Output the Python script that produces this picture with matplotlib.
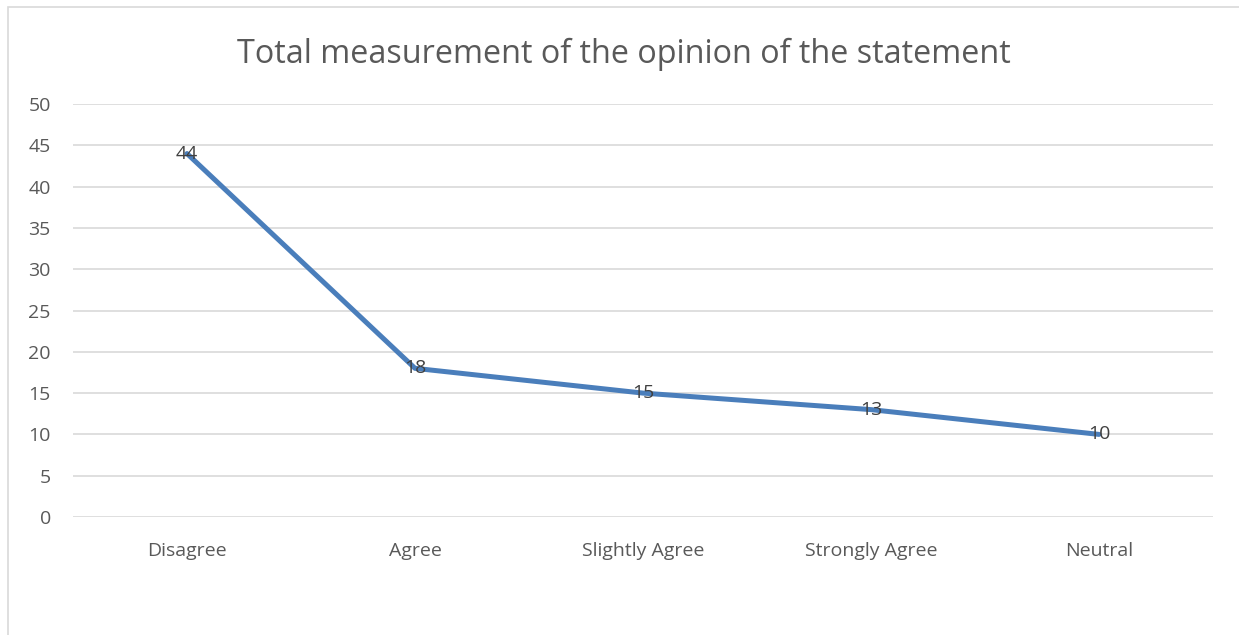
import matplotlib
matplotlib.use("Agg")
import matplotlib.pyplot as plt
from matplotlib.patches import Rectangle

categories = ["Disagree", "Agree", "Slightly Agree", "Strongly Agree", "Neutral"]
counts = [44, 18, 15, 13, 10]
y_ticks = [0, 5, 10, 15, 20, 25, 30, 35, 40, 45, 50]

plt.rcParams['font.family'] = ['Open Sans', 'DejaVu Sans']

fig = plt.figure(figsize=(12.39, 6.35), dpi=100)
ax = fig.add_axes([73 / 1239, 1 - 517 / 635, 1140 / 1239, 413 / 635])

x = list(range(len(categories)))
ax.plot(x, counts, color='#4A7EBB', linewidth=3.6, solid_capstyle='round', zorder=3)
for xi, v in zip(x, counts):
    ax.text(xi, v, str(v), ha='center', va='center', fontsize=14, color='#404040', zorder=4)

ax.set_xlim(-0.5, len(categories) - 0.5)
ax.set_ylim(0, 50)
ax.set_yticks(y_ticks)
ax.set_xticks(x)
ax.set_xticklabels(categories)
ax.grid(axis='y', color='#D9D9D9', linewidth=1.2)
ax.set_axisbelow(True)
for s in ax.spines.values():
    s.set_visible(False)
ax.tick_params(length=0, labelsize=14, labelcolor='#595959')
ax.tick_params(axis='x', pad=18)
ax.tick_params(axis='y', pad=16)

fig.text(624 / 1239, 1 - 54 / 635, "Total measurement of the opinion of the statement",
         ha='center', va='center', fontsize=23.3, color='#595959')

# chart border (only top/left visible in the crop)
fig.add_artist(Rectangle((8 / 1239, -0.1), 1.2, 1 - 7.5 / 635 + 0.1, transform=fig.transFigure,
                         fill=False, edgecolor='#D9D9D9', linewidth=1.2))

fig.savefig("out.png", dpi=100)
